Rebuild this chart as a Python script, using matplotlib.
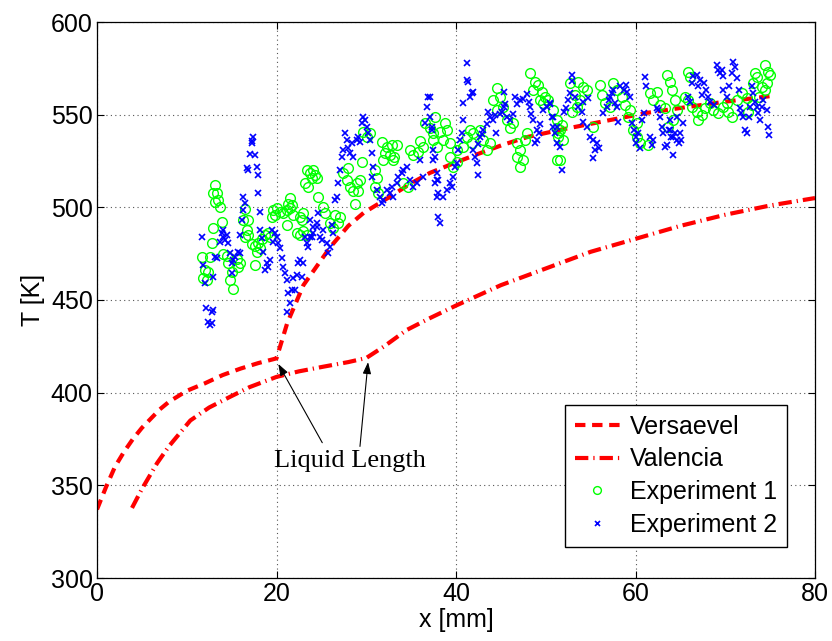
import matplotlib
matplotlib.use("Agg")
import matplotlib.pyplot as plt

# ---------------- data ----------------
vers_x = [0, 1, 2, 3, 4, 5, 6, 7, 8, 9, 10, 12, 14, 16, 18, 20,
          21.2, 23, 26, 28, 29.7, 32.6, 35, 37.1, 39.3, 42, 45.2, 48, 51.6, 56, 61.3, 65, 70, 75]
vers_T = [337, 349, 360, 368, 375, 381, 386, 391, 395, 398, 401, 405, 409.5, 413, 416, 418.5,
          437.6, 458, 478.6, 490, 497, 505.6, 513, 518.6, 522.9, 528, 533.7, 538, 541.8, 546, 551, 553.6, 557, 560]

val_x = [3.9, 5, 6.7, 8, 10.4, 12.5, 14.8, 17, 20, 22.5, 25.2, 28, 30, 32, 34.5, 37, 40,
         45, 50, 55, 60, 65, 70, 75, 80]
val_T = [337.8, 348, 362, 371, 385, 392, 397.7, 403, 408.5, 411.5, 414, 416.5, 418.7, 425, 433.8, 440, 447,
         458, 467, 476, 483, 490, 496, 501, 505]

exp1_x = [13.1, 13.4, 12.9, 13.5, 13.1, 13.7, 13.9, 12.9, 12.8, 11.7, 12.6, 12.0, 12.4, 11.8, 12.3,
          14.0, 14.5, 14.6, 15.0, 14.8, 15.2, 15.6, 15.7, 15.9, 16.3, 16.7, 16.8, 16.5, 16.5, 16.8,
          17.3, 17.6, 17.9, 18.2, 17.8, 17.6, 18.4, 18.7, 19.1, 19.3,
          19.6, 20.1, 20.4, 20.7, 21.2, 21.5, 21.7, 21.5, 21.3, 19.8, 19.5, 21.2,
          22.6, 22.8, 23.0, 22.3, 22.6, 23.0, 23.4, 21.8,
          23.4, 23.7, 24.1, 24.3, 24.0, 23.2, 23.5, 24.5, 24.6,
          25.2, 25.4, 26.5, 27.1, 26.9, 26.0, 26.3,
          27.4, 27.9, 28.2, 28.5, 29.0, 29.3, 29.1, 28.7, 28.0, 29.5, 29.6, 30.1, 30.4,
          31.0, 31.2, 31.0, 31.3, 31.8, 32.3, 32.9, 33.4, 32.1, 32.6, 33.1, 31.9, 33.0,
          34.9, 35.2, 35.8, 36.3, 36.0, 36.5, 37.1, 37.4, 37.7, 34.1, 34.7,
          38.8, 39.0, 38.2, 38.6, 37.4, 37.9,
          39.3, 40.1, 40.8, 41.2, 41.6, 41.9, 41.8, 39.3, 39.7, 40.1,
          42.7, 43.0, 43.5, 43.8, 44.6, 44.9, 44.1, 45.2, 44.6, 45.7, 46.0, 46.4,
          46.8, 47.1, 46.8, 47.5, 47.1, 47.9, 47.7,
          48.2, 48.8, 49.1, 48.6, 49.6, 49.9, 49.4, 49.7, 50.3, 51.3, 51.4, 51.3,
          50.8, 51.3, 51.6, 51.4, 51.9, 51.8, 51.6,
          52.7, 53.6, 54.2, 54.6, 53.3, 53.8, 53.5, 52.9, 55.3,
          56.0, 56.3, 56.6, 57.2, 57.5, 57.9, 58.5, 58.8, 59.4, 59.2,
          59.7, 60.2, 60.5, 61.4, 60.2,
          61.6, 62.0, 62.4, 62.7, 63.3, 63.5, 63.8, 64.1, 64.4, 64.6, 64.2, 63.6,
          65.8, 66.1, 65.5, 65.8, 66.3, 66.9, 67.4, 67.0, 67.7, 68.3,
          68.6, 69.2, 69.7, 70.3, 70.8, 70.2,
          71.3, 71.9, 72.4, 73.0, 72.5,
          73.3, 73.5, 74.4, 74.8, 75.0, 74.7, 74.1, 74.4, 73.8, 73.1]
exp1_T = [512, 508, 508, 504, 503, 500, 492, 489, 481, 473, 473, 466, 465, 462, 461,
          475, 474, 470, 465, 461, 456, 472, 468, 470, 493, 488, 485, 484, 499, 493,
          480, 479, 481, 478, 476, 469, 483, 485, 486, 484,
          498.6, 499.7, 497.5, 497, 498.6, 499.7, 501, 505, 502, 496, 495, 490.5,
          495, 493, 497, 486, 485, 487, 485, 496,
          520, 518.6, 520, 517.5, 516, 513, 511, 516, 505.6,
          500, 497, 496, 495, 491.5, 491.5, 489,
          518.6, 515, 511, 509, 513, 515, 509, 502, 521, 524.5, 540.7, 538, 540,
          520, 516, 511, 508, 535, 532.6, 533.7, 533.7, 529.4, 528.3, 527.2, 525.6, 525.6,
          531, 528, 530, 532.6, 536, 545.6, 543, 540, 548.8, 513, 511,
          545.5, 541.8, 540.7, 536.4, 536.4, 532.6,
          534.7, 531, 532.6, 538, 541.8, 540, 534.7, 527, 521.8, 524.5,
          541.8, 536.4, 531, 534.7, 564.4, 559.6, 558, 554.2, 552.6, 547, 543, 545.5,
          534.7, 531, 527, 525.6, 521.8, 540, 536.4,
          572.5, 567.7, 566, 563.4, 562.2, 559.6, 558, 556.3, 558, 543, 540, 525.6,
          552.6, 547, 541.8, 538, 536.4, 544.4, 525.6,
          567, 567.7, 565, 563.4, 560.6, 558, 554.2, 551.5, 543.4,
          566, 560.6, 556.3, 554.2, 567, 563.4, 559.6, 555.3, 552.6, 548.8,
          541.8, 538, 534.7, 533.7, 545.5,
          561.7, 558, 562.2, 555.3, 553.6, 571.5, 567.7, 563.4, 558, 552.6, 547, 543.4,
          573, 570.3, 559.6, 558, 554.2, 551.5, 549.9, 547, 553.6, 556.3,
          552.6, 551, 554.2, 551.5, 548.8, 556.3,
          558, 561.7, 559, 555.3, 551.5,
          572.5, 570.3, 576.8, 573, 571.5, 567.2, 565, 563.4, 559.6, 567.2]

exp2_x = [11.7, 11.8, 12.0, 12.2, 12.8, 12.9, 12.4, 12.6, 12.8, 13.1, 13.4, 12.9,
          13.9, 14.0, 14.3, 14.5, 13.7, 14.6, 14.0, 14.8, 15.0, 15.2, 15.4, 15.0, 15.7, 15.9,
          15.9, 16.2, 16.3, 16.5, 16.3,
          16.7, 16.8, 17.0, 17.3, 17.4, 17.3, 17.6, 17.8, 17.9, 17.9, 18.2,
          18.2, 18.4, 18.5, 18.9, 19.1, 19.3, 18.7,
          19.5, 19.8, 20.1, 19.6, 20.2,
          20.4, 20.6, 20.7, 20.9, 21.2, 21.3, 21.5, 21.2, 21.7,
          21.8, 22.3, 22.1, 22.8, 22.6, 23.0, 22.4, 23.4, 23.5, 23.2, 23.7, 24.1, 24.5, 24.6,
          23.7, 24.1, 24.5, 24.0, 24.8, 25.2, 25.1, 25.6, 26.0, 25.7, 26.3, 26.2,
          26.5, 26.7, 26.9, 27.1, 27.3, 27.4, 27.6, 27.9, 28.0, 28.2, 28.4, 28.5, 29.0, 29.1, 29.3,
          29.5, 29.6, 29.9, 30.1, 30.2, 30.4, 30.6, 30.8, 30.6,
          31.2, 31.5, 31.8, 31.9, 32.3, 32.6, 32.9, 33.0, 33.4, 33.5, 34.0, 34.1, 34.5, 34.9, 35.2,
          35.7, 36.0, 36.3, 36.9, 36.8, 37.1, 36.5, 37.3, 37.4, 37.7, 37.9, 38.0,
          37.9, 38.0, 38.2,
          37.1, 37.3, 37.4, 37.7, 37.9, 38.0, 38.6, 39.0, 39.3, 39.6, 39.7, 39.9,
          40.1, 40.2, 40.4, 40.7, 40.8, 40.8, 41.2, 41.3, 41.6, 41.8, 41.9, 41.2,
          41.9, 42.1, 42.3, 42.5, 42.7, 42.9, 43.0, 42.5, 43.4, 43.6, 43.8, 44.1, 44.4, 44.5,
          44.9, 45.1, 45.3, 45.5, 45.3, 45.7, 46.0, 46.4, 46.6, 46.8, 47.1, 47.5, 47.9, 48.1,
          48.2, 48.4, 48.6, 49.0, 49.4, 49.7, 50.1, 50.5, 50.8, 51.2,
          49.0, 49.2, 48.8,
          50.5, 50.7, 50.8, 51.0, 51.2, 51.6, 51.8,
          52.0, 52.3, 52.5, 52.7, 52.9, 52.9, 53.3, 53.6, 54.0, 54.2, 54.6, 54.2, 54.7,
          54.9, 55.3, 55.7, 55.9, 55.5, 55.3,
          56.4, 56.8, 57.0, 57.2, 57.4, 57.5, 57.7, 57.9, 58.1, 58.3, 58.7, 58.9, 59.0,
          59.4, 59.6, 59.8, 60.0, 60.1, 60.3, 60.5, 60.7, 60.9,
          61.1, 61.2, 61.6, 61.8, 62.0, 62.4, 62.5, 62.7, 62.9, 63.1, 63.3, 63.5, 63.7,
          63.8, 64.0, 64.2, 64.4, 64.6, 64.8,
          63.8, 64.2, 64.6, 65.0, 65.3, 65.1,
          65.9, 66.1, 66.3, 66.4, 66.8, 67.2, 67.0, 67.6, 67.4, 67.9, 68.1, 68.3, 68.7,
          69.1, 69.2, 69.4, 69.6, 69.8, 69.8, 70.2, 70.4, 70.7, 70.9, 71.1, 71.3, 71.5,
          71.6, 71.8, 72.0, 72.2, 72.4, 72.6, 72.8, 73.0, 73.1, 73.3, 73.5, 73.7, 73.9,
          74.1, 74.2, 74.6, 74.8, 74.9]
exp2_T = [484, 469, 459, 445.7, 443.6, 444.6, 438, 436.5, 437.6, 473.2, 472.7, 462.4,
          486, 484, 482.4, 485, 481.3, 480.8, 487.8, 475.4, 470, 471.6, 473.2, 464.6, 476, 475.4,
          485, 493, 498.6, 502.4, 505.6,
          521, 520, 529, 536, 538, 534.7, 528.3, 521.8, 517.5, 507.8, 497.5,
          487.8, 483.5, 476, 470, 467.8, 471.6, 466.2,
          487.8, 486.2, 484, 481.3, 480.8,
          478, 472.7, 467.8, 464.6, 460.8, 453.8, 448.4, 443.6, 455.4,
          461.9, 463.5, 455.4, 462.4, 471.6, 470, 470, 480.8, 478.6, 484, 484, 486.2, 489.4, 497,
          493.2, 489.4, 491.6, 484, 484, 487.8, 482.4, 480.8, 478.6, 475.4, 486.2, 490.5,
          504, 505.6, 513.2, 520.2, 527.2, 531, 540.2, 536.4, 532, 529.4, 534.7, 527.2, 536.4, 538, 535.3,
          545.5, 548.8, 547.1, 543.4, 540.2, 536.4, 529.4, 521.8, 516.4,
          509.4, 505.6, 502.4, 504, 509.4, 507.8, 511, 505.6, 513.2, 516.4, 518.6, 520.2, 521.8, 514.8, 511,
          513.2, 525.6, 516.4, 559.6, 554.2, 548.8, 545.5, 541.8, 531, 527.2, 518.6, 514.8,
          505.6, 494.8, 491.6,
          559.6, 543.4, 525.6, 513.2, 514.8, 507.8, 505.6, 509.4, 513.2, 511, 516.4, 521.8,
          524, 531, 536.4, 540.2, 547.1, 556.3, 568.7, 567.7, 559.6, 561.7, 562.2, 577.9,
          531, 527.4, 523.8, 534.3, 537.9, 539.7, 541.5, 517.4, 545.1, 551.4, 548.7, 547.0, 549.7, 540.2,
          550.6, 551.4, 554.2, 556.0, 562.2, 548.7, 547.0, 550.6, 559.7, 556.0, 557.8, 558.7, 561.4, 556.9,
          554.2, 550.6, 547.0, 541.5, 545.1, 552.3, 554.2, 556.0, 548.7, 543.3,
          536.4, 540.0, 534.6,
          556.2, 548.9, 543.6, 540.0, 534.6, 532.8, 520.2,
          551.6, 553.5, 558.0, 561.6, 571.5, 567.9, 559.8, 554.4, 551.6, 546.3, 543.6, 557.1, 558.9,
          538.2, 536.4, 534.6, 531.9, 531.0, 526.5,
          550.8, 554.4, 558.0, 559.8, 561.6, 563.4, 556.2, 554.4, 546.3, 565.2, 563.4, 566.1, 562.5,
          559.8, 545.4, 541.8, 538.2, 534.6, 540.0, 531.9, 547.2, 550.8,
          570.5, 565.2, 538.2, 533.7, 536.4, 553.5, 552.6, 548.9, 543.6, 540.0, 532.8, 533.7, 541.8,
          547.2, 538.2, 528.3, 540.0, 548.9, 534.6,
          541.8, 538.2, 536.4, 540.0, 545.4, 536.4,
          559.8, 557.1, 567.0, 570.6, 571.5, 568.8, 565.2, 567.0, 560.7, 563.4, 559.8, 557.1, 555.3,
          576.8, 574.1, 572.3, 574.1, 570.6, 563.4, 559.8, 565.2, 572.3, 578.6, 575.9, 569.7, 563.4,
          553.5, 550.8, 549.0, 541.8, 540.0, 549.0, 554.4, 565.2, 561.6, 557.1, 554.4, 550.8, 547.2,
          554.4, 558.0, 552.6, 543.6, 539.1]

x_ticks = [0, 20, 40, 60, 80]
y_ticks = [300, 350, 400, 450, 500, 550, 600]
series_labels = ["Versaevel", "Valencia", "Experiment 1", "Experiment 2"]
annot_text = "Liquid Length"
annot_targets = [(20.2, 415.5), (30.2, 416.5)]
annot_tails = [(25.1, 373.0), (29.3, 371.0)]
annot_pos = (28.2, 363.0)

# ---------------- figure ----------------
plt.rcParams['font.family'] = ['Liberation Sans', 'DejaVu Sans']
fig = plt.figure(figsize=(8.32, 6.41), dpi=100)
ax = fig.add_axes([97/832, 63/641, 718/832, 556/641])

ax.plot(vers_x, vers_T, color=(1, 0, 0), lw=3, linestyle=(0, (2.5, 1.6)),
        label=series_labels[0], zorder=2)
ax.plot(val_x, val_T, color=(1, 0, 0), lw=3, linestyle=(0, (3.2, 1.2, 0.3, 1.2)),
        label=series_labels[1], zorder=2)
ax.plot(exp1_x, exp1_T, linestyle='none', marker='o', markersize=7, markerfacecolor='none',
        markeredgecolor=(0, 1, 0), markeredgewidth=1.0, label=series_labels[2], zorder=3)
ax.plot(exp2_x, exp2_T, linestyle='none', marker='x', markersize=4.5,
        color=(0, 0, 1), markeredgewidth=1.2, label=series_labels[3], zorder=4)

for (tx, ty), (hx, hy) in zip(annot_tails, annot_targets):
    ax.annotate("", xy=(hx, hy), xytext=(tx, ty),
                arrowprops=dict(arrowstyle='-|>,head_length=0.7,head_width=0.25',
                                color='black', lw=0.8, shrinkA=0, shrinkB=0))
ax.text(annot_pos[0], annot_pos[1], annot_text, family=['Liberation Serif', 'DejaVu Serif'],
        fontsize=19, ha='center', va='center')

ax.set_xlim(0, 80)
ax.set_ylim(300, 600)
ax.set_xticks(x_ticks)
ax.set_yticks(y_ticks)
ax.tick_params(direction='in', top=True, right=True, labelsize=18, length=5, width=0.8, pad=3)
ax.grid(True, linestyle=(0, (1, 3)), color='#555555', linewidth=0.8)
for s in ax.spines.values():
    s.set_linewidth(0.9)
ax.set_xlabel("x [mm]", fontsize=18, labelpad=1)
ax.set_ylabel("T [K]", fontsize=18, labelpad=4)

leg = ax.legend(loc='lower right', bbox_to_anchor=(0.961, 0.056), borderaxespad=0,
                fontsize=18, fancybox=False, edgecolor='black', framealpha=1,
                handlelength=1.8, handletextpad=0.4, labelspacing=0.35, borderpad=0.4,
                markerscale=0.8)
leg.get_frame().set_linewidth(1.0)

fig.savefig("out.png", dpi=100)
